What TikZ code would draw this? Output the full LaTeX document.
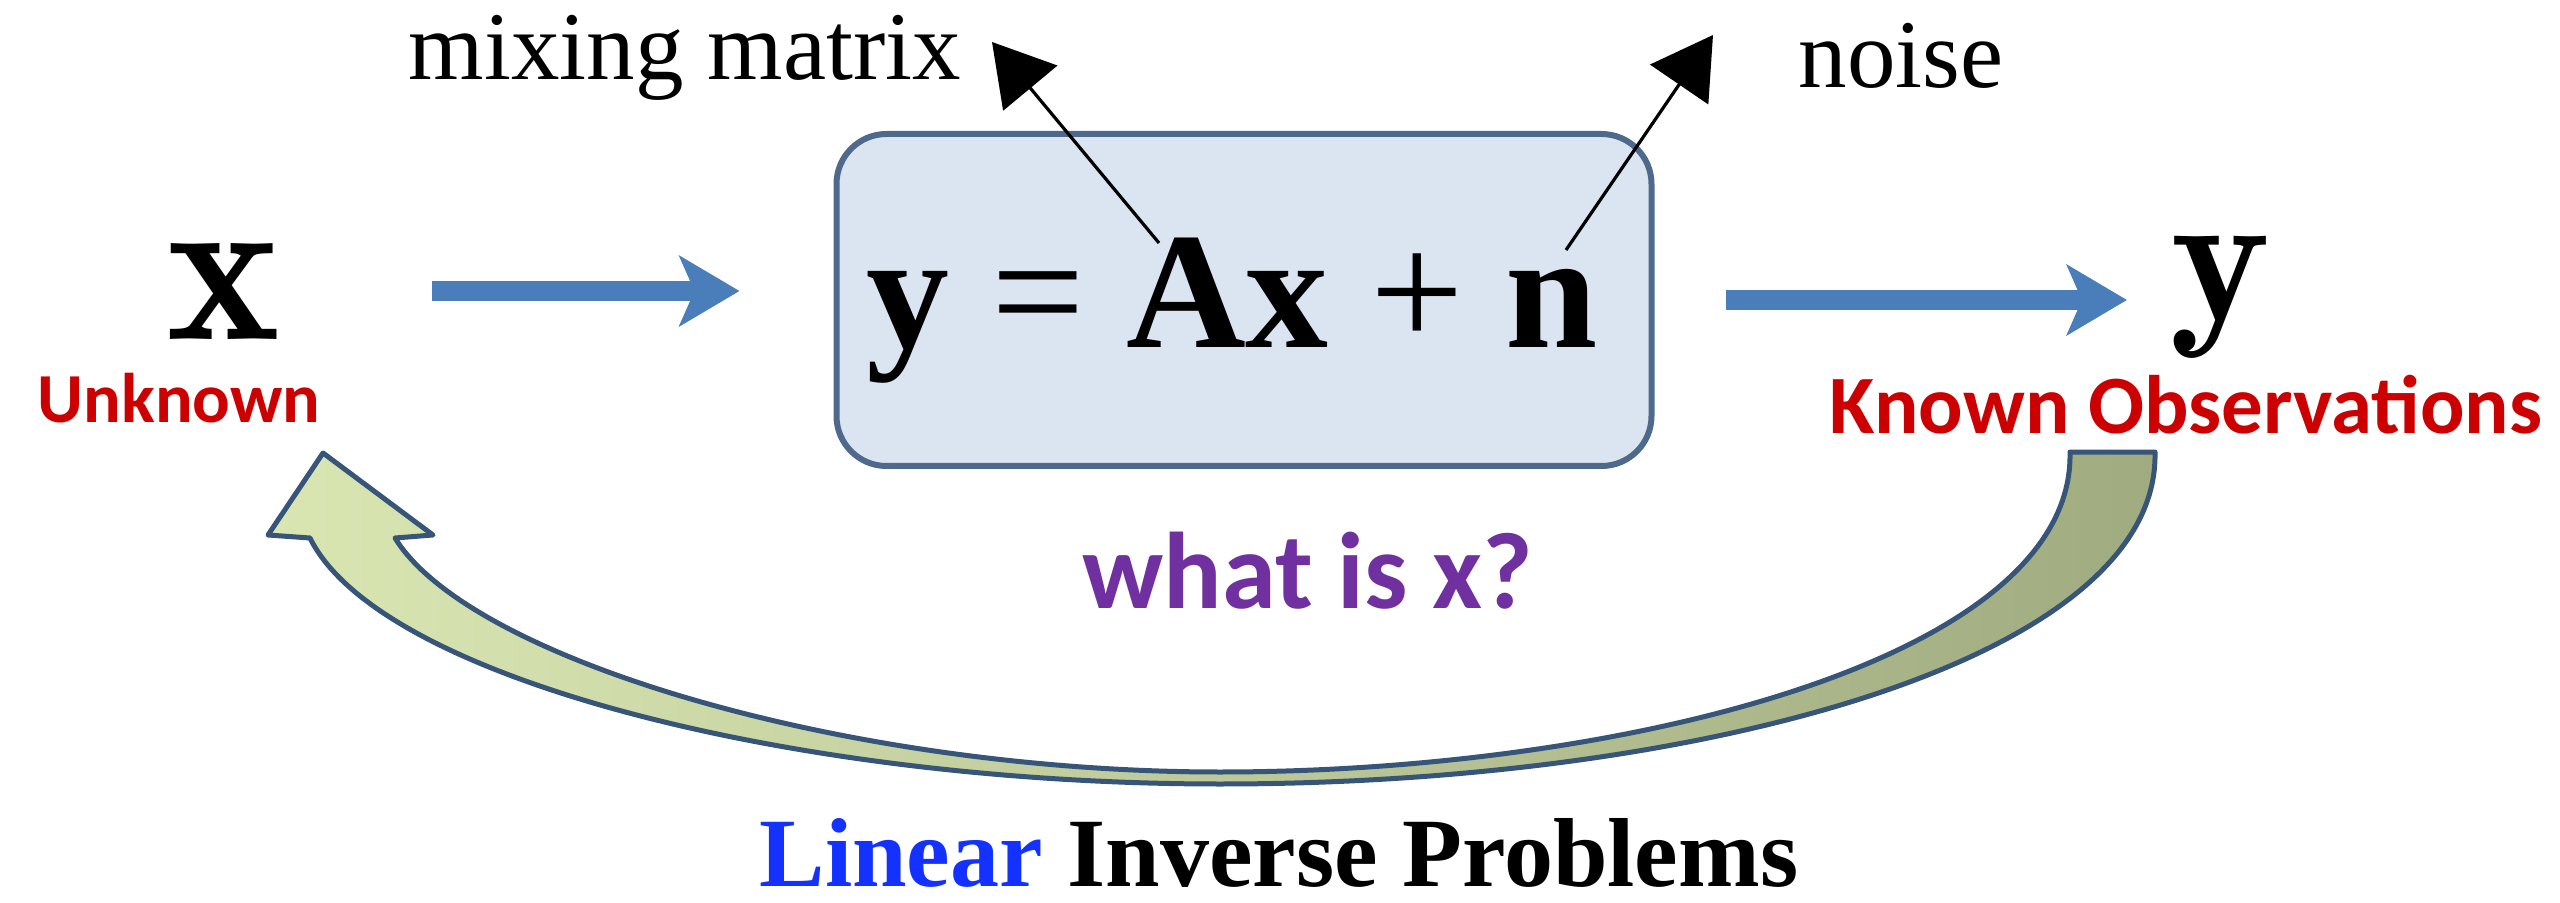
\documentclass[tikz,border=0pt]{standalone}
\usepackage{fontspec}
\usepackage{tikz}
\usetikzlibrary{arrows.meta,positioning}
\newfontfamily\timesfont{Liberation Serif}
\newfontfamily\calibfont{Carlito}
\definecolor{boxfill}{RGB}{219,229,241}
\definecolor{boxline}{RGB}{79,105,140}
\definecolor{flowblue}{RGB}{74,126,187}
\definecolor{tagred}{RGB}{204,0,0}
\definecolor{askpurple}{RGB}{112,48,160}
\definecolor{linblue}{RGB}{20,50,255}
\definecolor{loopline}{RGB}{55,85,120}
\definecolor{looplight}{RGB}{218,230,178}
\definecolor{loopdark}{RGB}{160,172,128}

\begin{document}
\begin{tikzpicture}[
  x=0.1mm,y=-0.1mm,
  lbl/.style={anchor=base west,inner sep=0pt,font=\timesfont\fontsize{27.6}{30}\selectfont},
  tag/.style={anchor=base west,inner sep=0pt,text=tagred,font=\calibfont\bfseries\fontsize{20}{22}\selectfont},
  symb/.style={anchor=base west,inner sep=0pt,font=\fontsize{61.5}{66}\selectfont},
  pointer/.style={-{Triangle[length=6mm,width=7mm]},line width=0.32mm},
  flow/.style={-{Stealth[length=6mm,width=7mm,inset=1.5mm]},line width=2mm,draw=flowblue},
  eqbox/.style={draw=boxline,fill=boxfill,line width=0.6mm,rounded corners=5mm,
    minimum width=81.5mm,minimum height=33.2mm}]
\path[use as bounding box] (0,0) rectangle (2560,903);
% model box
\node[eqbox] (box) at (1244,300) {};
\node[anchor=base west,inner sep=0pt,font=\timesfont\fontsize{47.2}{50}\selectfont]
  (eq) at (866,347) {\textbf{y} = \textbf{Ax} + \textbf{n}};
\node[lbl] (mix) at (408,80) {mixing matrix};
\node[lbl] (noise) at (1798,88) {noise};
\coordinate (Atop) at (1159,243);
\coordinate (ntop) at (1566,250);
\coordinate (mixtip) at (992,42);
\coordinate (noisetip) at (1713,35);
\draw[pointer] (Atop) -- (mixtip);
\draw[pointer] (ntop) -- (noisetip);
% input / output
\node[symb] (xvar) at (166,339) {$\mathbf{x}$};
\node[symb,font=\fontsize{54}{60}\selectfont] (yvar) at (2170,321) {$\mathbf{y}$};
\node[tag] (unk) at (37,422) {Unknown};
\node[tag,font=\calibfont\bfseries\fontsize{23.6}{25}\selectfont] (obs) at (1829,433)
  {Known Observations};
\draw[flow,shorten <=15mm,shorten >=9.4mm] (xvar.east) -- (xvar.east -| box.west);
\draw[flow,shorten <=7.1mm,shorten >=4.3mm] (box.east) -- (box.east -| yvar.west);
\node[anchor=base west,inner sep=0pt,text=askpurple,
  font=\calibfont\bfseries\fontsize{31}{34}\selectfont] (what) at (1082,608) {what is x?};
% curved return arrow
\draw[draw=loopline,line width=0.5mm,left color=looplight,right color=loopdark,line join=round]
  (323,453) -- (433,535) -- (395,538)
  .. controls (470,660) and (850,772) .. (1220,772)
  .. controls (1620,772) and (2075,660) .. (2070,452)
  -- (2155,452)
  .. controls (2160,660) and (1700,784) .. (1220,784)
  .. controls (800,784) and (380,680) .. (310,538)
  -- (268,535) -- cycle;
\node[anchor=base west,inner sep=0pt,font=\timesfont\bfseries\fontsize{27.9}{30}\selectfont]
  (title) at (759,886) {\textcolor{linblue}{Linear} Inverse Problems};
\end{tikzpicture}
\end{document}
